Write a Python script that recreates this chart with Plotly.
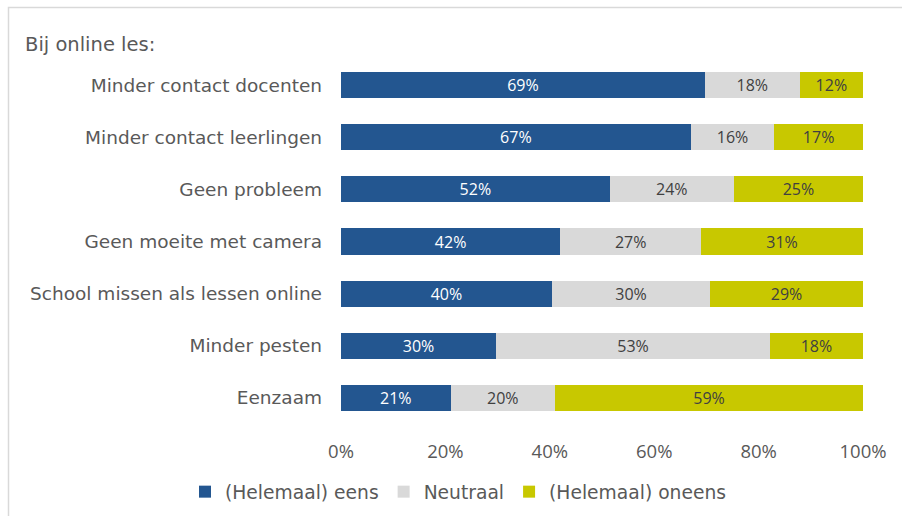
import plotly.graph_objects as go

categories = [
    "Minder contact docenten",
    "Minder contact leerlingen",
    "Geen probleem",
    "Geen moeite met camera",
    "School missen als lessen online",
    "Minder pesten",
    "Eenzaam",
]
eens = [69, 67, 52, 42, 40, 30, 21]
neutraal = [18, 16, 24, 27, 30, 53, 20]
oneens = [12, 17, 25, 31, 29, 18, 59]
series_names = ["(Helemaal) eens", "Neutraal", "(Helemaal) oneens"]
tick_vals = [0, 20, 40, 60, 80, 100]
tick_text = ["0%", "20%", "40%", "60%", "80%", "100%"]

TEXT_FONT = "DejaVu Sans"
NUM_FONT = "Open Sans"
GREY = "#595959"
colors = ["#235690", "#d9d9d9", "#c8c800"]
text_colors = ["#ffffff", "#404040", "#404040"]

fig = go.Figure()
for name, vals, col, tcol in zip(series_names, [eens, neutraal, oneens], colors, text_colors):
    fig.add_trace(go.Bar(
        y=categories, x=vals, name=name, orientation="h",
        marker=dict(color=col, line=dict(width=0)),
        text=[f"{v}%" for v in vals], texttemplate="%{text}",
        textposition="inside", insidetextanchor="middle",
        constraintext="none",
        textfont=dict(family=NUM_FONT, size=16, color=tcol),
        hoverinfo="skip",
    ))

L, R, T, B = 341, 39, 59, 92
W, H = 902, 516
pw, ph = W - L - R, H - T - B

def px_x(p):
    return (p - L) / pw

def px_y(p):
    return (H - B - p) / ph

fig.update_layout(
    width=W, height=H,
    barmode="stack", barnorm="percent", bargap=0.5,
    margin=dict(l=L, r=R, t=T, b=B, autoexpand=False),
    paper_bgcolor="white", plot_bgcolor="white",
    font=dict(family=TEXT_FONT, color=GREY),
    xaxis=dict(range=[0, 100], tickvals=tick_vals, ticktext=tick_text,
               showgrid=False, zeroline=False, showline=False,
               tickfont=dict(family=NUM_FONT, size=18.5, color=GREY), ticks="",
               ticklabelstandoff=14),
    yaxis=dict(autorange="reversed", showgrid=False, showline=False,
               tickfont=dict(family=TEXT_FONT, size=18.5, color=GREY), ticks="",
               ticklabelstandoff=18),
    showlegend=True,
    legend=dict(orientation="h", x=px_x(185), xanchor="left", y=px_y(492), yanchor="middle",
                font=dict(family=TEXT_FONT, size=18.7, color=GREY), traceorder="normal",
                itemwidth=30, itemsizing="constant"),
    annotations=[dict(text="Bij online les:", xref="paper", yref="paper",
                      x=px_x(23), y=px_y(45), xanchor="left", yanchor="middle",
                      showarrow=False, font=dict(family=TEXT_FONT, size=19.5, color=GREY))],
    shapes=[dict(type="rect", xref="paper", yref="paper",
                 x0=px_x(8.5), x1=px_x(W + 20), y0=px_y(H + 20), y1=px_y(7.5),
                 line=dict(color="#d9d9d9", width=1.5), layer="below")],
)

fig.write_html("out.html")
